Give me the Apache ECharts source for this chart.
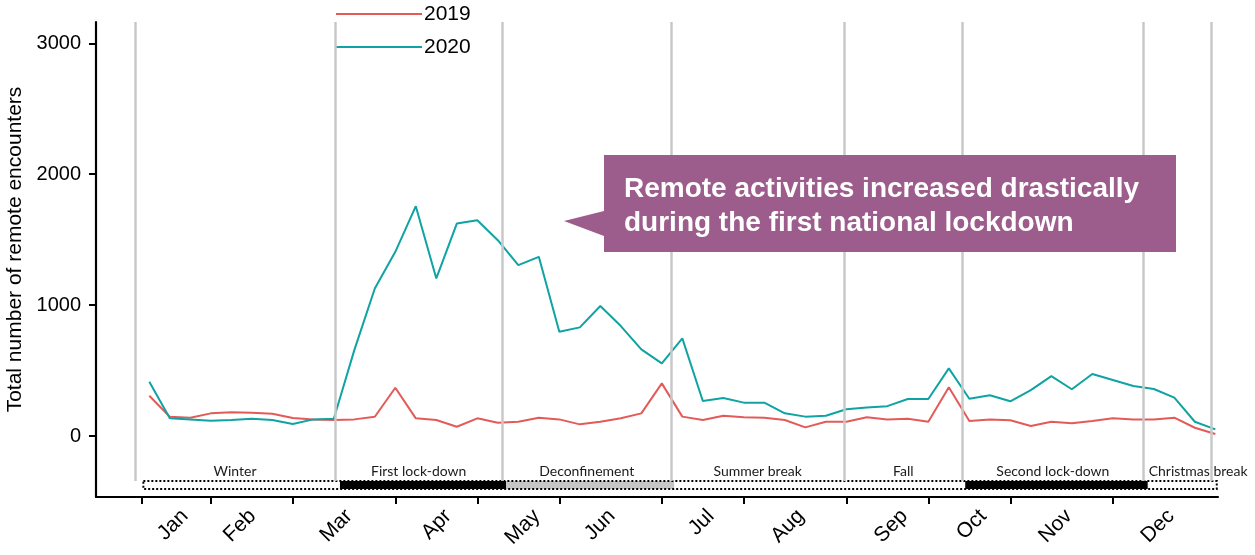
<!DOCTYPE html>
<html>
<head>
<meta charset="utf-8">
<script src="https://cdn.jsdelivr.net/npm/echarts@6/dist/echarts.min.js"></script>
<style>
html,body{margin:0;padding:0;background:#fff;}
#chart{width:1255px;height:555px;}
</style>
</head>
<body>
<div id="chart"></div>
<script>
// ---- data ----
const seriesNames = ['2019', '2020'];
const values2019 = [308,147,140,173,181,178,170,137,127,122,
                    127,147,369,135,122,71,135,102,109,140,
                    127,89,109,135,173,402,148,122,155,143,
                    140,122,66,109,109,143,127,132,109,372,
                    115,127,120,76,109,97,115,135,127,127,
                    140,63,15];
const values2020 = [414,135,127,117,122,132,122,92,127,132,
                    656,1127,1407,1756,1204,1623,1649,1496,1305,1369,
                    797,830,993,840,662,555,746,267,290,255,
                    255,173,148,155,204,217,228,283,283,517,
                    285,311,265,351,458,357,474,428,382,359,
                    293,109,51];
// week index of each point
const weekIndex = values2019.map((_, i) => i);
// month ticks (week index of month boundaries) and month label positions
const monthTicks = [-0.37, 3, 7, 12, 16, 20, 25, 29, 34, 38, 42, 47];
const monthLabelPos = [1.74, 5.04, 9.75, 14.58, 18.9, 22.57, 27.4, 31.79, 36.83, 40.68, 44.85, 49.84];
const monthNames = ['Jan','Feb','Mar','Apr','May','Jun','Jul','Aug','Sep','Oct','Nov','Dec'];
const yTicks = [0, 1000, 2000, 3000];
// periods (week index boundaries)
const periodNames = ['Winter','First lock-down','Deconfinement','Summer break','Fall','Second lock-down','Christmas break'];
const periodLines = [-0.70, 9.06, 17.22, 25.45, 33.9, 39.66, 48.49, 51.78];
const periodBarBounds = [-0.29, 9.30, 17.4, 25.6, 33.9, 39.8, 48.7, 52.07];
const periodKind = ['normal','lockdown','deconfinement','normal','normal','lockdown','normal'];
const annotationText = 'Remote activities increased drastically\nduring the first national lockdown';

// ---- layout / style constants ----
const Y_MIN = -466, Y_MAX = 3163;
const BAR_TOP = -344, BAR_BOTTOM = -405;
const X_MIN = -2.6, X_MAX = 52.13;
const RED = '#e35b58', TEAL = '#0fa3a3';
const kindColor = {normal: 'rgba(0,0,0,0)', lockdown: '#000', deconfinement: '#c6c6c6'};

const chart = echarts.init(document.getElementById('chart'), null, {renderer: 'canvas'});

const markLineData = periodLines.map(v => [
  {coord: [v, Y_MAX]}, {coord: [v, BAR_TOP]}
]);

const fillAreas = periodKind.map((k, i) => [
  {xAxis: periodBarBounds[i], yAxis: BAR_TOP, itemStyle: {color: kindColor[k], borderWidth: 0}, label: {show: false}},
  {xAxis: periodBarBounds[i + 1], yAxis: BAR_BOTTOM}
]);
const labelAreas = periodNames.map((n, i) => [
  {name: n, xAxis: periodLines[i], yAxis: BAR_TOP,
   itemStyle: {color: 'rgba(0,0,0,0)', borderWidth: 0},
   label: i === periodNames.length - 1 ? {offset: [21, 0]} : {}},
  {xAxis: periodLines[i + 1], yAxis: BAR_BOTTOM}
]);
const boxArea = [[
  {xAxis: periodBarBounds[0], yAxis: BAR_TOP,
   itemStyle: {color: 'rgba(0,0,0,0)', borderColor: '#000', borderWidth: 2, borderType: [2, 2]},
   label: {show: false}},
  {xAxis: periodBarBounds[periodBarBounds.length - 1], yAxis: BAR_BOTTOM}
]];

const option = {
  animation: false,
  backgroundColor: '#fff',
  grid: {left: 96, right: 37, top: 22, bottom: 58, containLabel: false, outerBoundsMode: 'none'},
  legend: {
    data: seriesNames,
    orient: 'vertical',
    left: 331,
    top: -3,
    icon: 'rect',
    itemWidth: 86,
    itemHeight: 2,
    itemGap: 9,
    textStyle: {fontFamily: 'Liberation Sans', fontSize: 21, color: '#000', lineHeight: 24, padding: [0, 0, 0, -3]}
  },
  xAxis: {
    type: 'value',
    min: X_MIN,
    max: X_MAX,
    splitLine: {show: false},
    axisLine: {show: true, onZero: false, lineStyle: {color: '#000', width: 2.2}},
    axisTick: {show: true, customValues: monthTicks, length: 7, lineStyle: {color: '#000', width: 2}},
    axisLabel: {
      show: true,
      customValues: monthLabelPos,
      rotate: 45,
      margin: 16,
      fontFamily: 'Liberation Sans',
      fontSize: 21,
      color: '#000',
      hideOverlap: false,
      formatter: function (v) {
        const idx = monthLabelPos.findIndex(p => Math.abs(p - v) < 1e-6);
        return idx >= 0 ? monthNames[idx] : '';
      }
    }
  },
  yAxis: {
    type: 'value',
    min: Y_MIN,
    max: Y_MAX,
    name: 'Total number of remote encounters',
    nameLocation: 'middle',
    nameGap: 64,
    nameRotate: 90,
    nameTextStyle: {fontFamily: 'Liberation Sans', fontSize: 21, color: '#000', padding: [0, 0, 0, 20]},
    splitLine: {show: false},
    axisLine: {show: true, onZero: false, lineStyle: {color: '#000', width: 2.2}},
    axisTick: {show: true, customValues: yTicks, length: 7, lineStyle: {color: '#000', width: 2}},
    axisLabel: {
      show: true,
      customValues: yTicks,
      margin: 15,
      fontFamily: 'Liberation Sans',
      fontSize: 20,
      color: '#000',
      formatter: function (v) { return String(v); }
    }
  },
  series: [
    {
      name: 'periods',
      type: 'line',
      data: [],
      z: 1,
      silent: true,
      markLine: {
        silent: true,
        symbol: ['none', 'none'],
        label: {show: false},
        lineStyle: {color: '#c8c8c8', width: 2.5, type: 'solid'},
        data: markLineData
      },
      markArea: {
        silent: true,
        label: {
          show: true,
          position: 'top',
          distance: 3,
          fontFamily: 'Lato',
          fontSize: 14,
          color: '#1a1a1a'
        },
        data: fillAreas.concat(labelAreas).concat(boxArea)
      }
    },
    {
      name: seriesNames[0],
      type: 'line',
      z: 3,
      data: weekIndex.map((w, i) => [w, values2019[i]]),
      symbol: 'none',
      lineStyle: {color: RED, width: 2},
      itemStyle: {color: RED}
    },
    {
      name: seriesNames[1],
      type: 'line',
      z: 4,
      data: weekIndex.map((w, i) => [w, values2020[i]]),
      symbol: 'none',
      lineStyle: {color: TEAL, width: 2},
      itemStyle: {color: TEAL}
    }
  ],
  graphic: [
    {
      type: 'polygon',
      z: 10,
      shape: {points: [[604, 155], [1176, 155], [1176, 252], [604, 252], [604, 236], [564, 221], [604, 211]]},
      style: {fill: '#9c5c8c'}
    },
    {
      type: 'text',
      z: 11,
      left: 624,
      top: 172,
      style: {
        text: annotationText,
        fill: '#fff',
        font: 'bold 28px "Liberation Sans"',
        lineHeight: 34
      }
    }
  ]
};
chart.setOption(option);
</script>
</body>
</html>
